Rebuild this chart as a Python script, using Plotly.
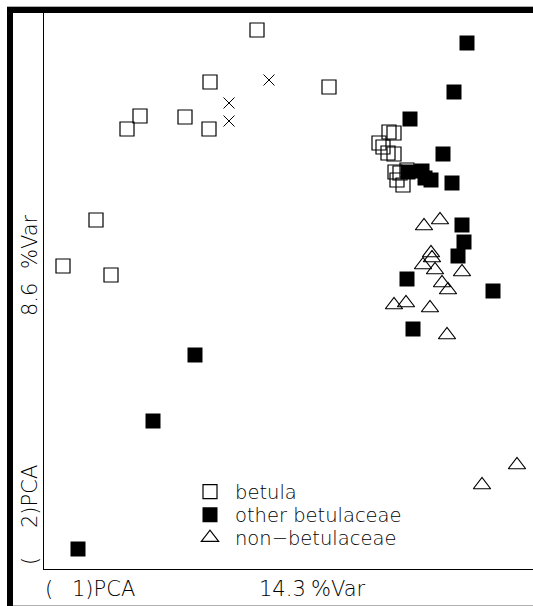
import plotly.graph_objects as go

# Data (PCA scores, arbitrary units)
betula_x = [2.13, 1.66, 2.85, 0.96, 0.83, 1.41, 1.65, 0.52, 0.19, 0.67,
            3.45, 3.50, 3.35, 3.39, 3.44, 3.50, 3.51, 3.56, 3.53, 3.59, 3.63]
betula_y = [5.39, 4.87, 4.82, 4.53, 4.40, 4.52, 4.40, 3.49, 3.03, 2.94,
            4.37, 4.36, 4.26, 4.22, 4.16, 4.15, 3.97, 3.96, 3.89, 3.84, 3.99]

other_x = [4.23, 4.10, 3.66, 3.99, 3.64, 3.78, 3.81, 3.87, 4.08, 4.18,
           4.20, 4.14, 3.63, 4.49, 3.69, 1.51, 1.09, 0.34]
other_y = [5.26, 4.77, 4.50, 4.15, 3.97, 3.98, 3.91, 3.89, 3.86, 3.44,
           3.27, 3.13, 2.90, 2.78, 2.40, 2.14, 1.48, 0.20]

non_x = [3.80, 3.96, 3.87, 3.88, 3.79, 3.91, 4.18, 3.98, 4.04, 3.50,
         3.62, 3.86, 4.03, 4.38, 4.73]
non_y = [3.43, 3.49, 3.16, 3.11, 3.04, 2.99, 2.97, 2.86, 2.79, 2.64,
         2.66, 2.61, 2.34, 0.84, 1.04]

cross_x = [1.85, 2.25, 1.85]
cross_y = [4.66, 4.89, 4.48]

names = ["betula", "other betulaceae", "non\u2212betulaceae"]
x_title = ["(", "1)PCA", "14.3", "%Var"]
y_title = ["(", "2)PCA", "8.6", "%Var"]

FONT = "DejaVu Sans"
WEIGHT = 200

fig = go.Figure()
fig.add_trace(go.Scatter(x=cross_x, y=cross_y, mode="markers", showlegend=False,
                         marker=dict(symbol="x-thin", size=11, line=dict(color="black", width=1))))
fig.add_trace(go.Scatter(x=betula_x, y=betula_y, mode="markers", name=names[0], legend="legend",
                         marker=dict(symbol="square-open", size=14, color="black",
                                     line=dict(color="black", width=1.2))))
fig.add_trace(go.Scatter(x=other_x, y=other_y, mode="markers", name=names[1], legend="legend2",
                         marker=dict(symbol="square", size=15, color="black",
                                     line=dict(width=0))))
fig.add_trace(go.Scatter(x=non_x, y=non_y, mode="markers", name=names[2], legend="legend3",
                         marker=dict(symbol="triangle-up-open", size=15, color="black",
                                     line=dict(color="black", width=1.2))))

W, H = 533, 606          # visible window
EXTRA = 12                # figure extends a little past the right edge of the window
L, B, T = 44, 37, 12
pw, ph = W - L, H - B - T

def px_x(p):
    return (p - L) / pw

def px_y(p):
    return (H - B - p) / ph

shapes = [
    dict(type="rect", xref="paper", yref="paper", x0=px_x(7), x1=px_x(545), y0=px_y(13), y1=px_y(7),
         fillcolor="black", line=dict(width=0)),
    dict(type="rect", xref="paper", yref="paper", x0=px_x(7), x1=px_x(13), y0=px_y(606), y1=px_y(7),
         fillcolor="black", line=dict(width=0)),
    dict(type="line", xref="paper", yref="paper", x0=px_x(7), x1=px_x(545), y0=px_y(6.5), y1=px_y(6.5),
         line=dict(color="#b0b0b0", width=1)),
    dict(type="line", xref="paper", yref="paper", x0=px_x(13), x1=px_x(545), y0=px_y(605.5), y1=px_y(605.5),
         line=dict(color="#b0b0b0", width=1)),
    dict(type="line", xref="paper", yref="paper", x0=1, x1=px_x(545), y0=0, y1=0,
         line=dict(color="black", width=1)),
]

def ann(text, xc, yc, angle=0, xanchor="center"):
    return dict(text=text, x=px_x(xc), y=px_y(yc), xref="paper", yref="paper",
                textangle=angle, xanchor=xanchor, yanchor="middle", showarrow=False,
                font=dict(family=FONT, size=21, weight=WEIGHT, color="black"))

annotations = [
    ann(x_title[0], 49, 589),
    ann(x_title[1], 137, 589, xanchor="right"),
    ann(x_title[2], 282, 589),
    ann(x_title[3], 338, 589),
    ann(y_title[0], 30, 561, -90),
    ann(y_title[1], 30, 497, -90),
    ann(y_title[2], 30, 300, -90),
    ann(y_title[3], 30, 242, -90),
]

def leg(yc):
    return dict(x=px_x(185), y=px_y(yc), xanchor="left", yanchor="middle",
                font=dict(family=FONT, size=19.5, weight=WEIGHT, color="black"),
                bgcolor="rgba(0,0,0,0)", borderwidth=0, itemsizing="trace",
                itemwidth=40)

fig.update_layout(
    width=W + EXTRA, height=H,
    margin=dict(l=L, r=EXTRA, t=T, b=B, pad=0),
    paper_bgcolor="white", plot_bgcolor="white",
    font=dict(family=FONT, size=19, weight=WEIGHT, color="black"),
    xaxis=dict(range=[0, pw / 100], showgrid=False, zeroline=False, showticklabels=False,
               ticks="", showline=True, linecolor="black", linewidth=1, fixedrange=True),
    yaxis=dict(range=[0, ph / 100], showgrid=False, zeroline=False, showticklabels=False,
               ticks="", showline=True, linecolor="black", linewidth=1, fixedrange=True),
    legend=leg(492),
    legend2=leg(515),
    legend3=leg(538),
    shapes=shapes,
    annotations=annotations,
    showlegend=True,
)

fig.write_html("out.html", config={"displayModeBar": False},
               post_script=("document.body.style.margin='0px';"
                            "document.body.style.overflow='hidden';"
                            "document.documentElement.style.overflow='hidden';"))
